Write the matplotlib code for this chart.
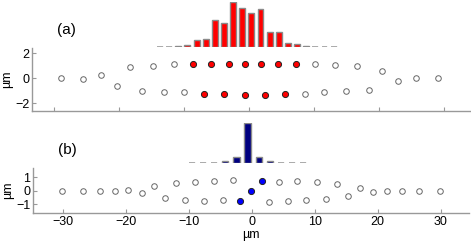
import matplotlib
matplotlib.use("Agg")
import matplotlib.pyplot as plt
import numpy as np

# panel (a): particle positions (um)
a_x = [-29.0, -25.6, -22.8, -20.3, -18.3, -16.5, -14.8, -13.1, -11.6, -10.0,
       -8.6, -6.9, -5.8, -3.9, -3.1, -0.7, -0.6, 1.9, 2.5, 4.5, 5.5, 7.2,
       8.6, 10.2, 11.6, 13.3, 14.9, 16.6, 18.4, 20.4, 22.9, 25.7, 29.1]
a_y = [0.0, -0.08, 0.21, -0.64, 0.91, -1.04, 0.99, -1.09, 1.09, -1.12,
       1.09, -1.25, 1.09, -1.31, 1.09, -1.39, 1.12, 1.09, -1.36, 1.09, -1.31, 1.09,
       -1.25, 1.09, -1.15, 1.04, -1.04, 0.99, -0.93, 0.59, -0.27, 0.03, -0.03]
a_on = [0] * 10 + [1] * 12 + [0] * 11
# panel (a): populations
a_bars = [0, 0, 1.0, 1.7, 6.7, 8.0, 26.3, 23.7, 44.3, 39.0,
          33.7, 38.0, 14.3, 14.3, 3.7, 2.7, 0.7, 0, 0, 0]

# panel (b)
b_x = [-30.1, -26.8, -24.1, -21.7, -19.6, -17.4, -15.5, -13.7, -12.0, -10.5,
       -9.0, -7.5, -6.0, -4.5, -2.9, -1.9, -0.1, 1.6, 2.7, 4.3, 5.7, 7.2,
       8.7, 10.3, 11.8, 13.5, 15.3, 17.2, 19.3, 21.5, 23.8, 26.6, 29.9]
b_y = [0, 0, 0, 0, 0.07, -0.17, 0.37, -0.49, 0.62, -0.67,
       0.67, -0.72, 0.72, -0.64, 0.84, -0.77, 0.0, 0.77, -0.84, 0.64, -0.72, 0.72,
       -0.64, 0.64, -0.62, 0.52, -0.35, 0.22, -0.07, 0, 0, 0, 0]
b_on = [0] * 15 + [1] * 3 + [0] * 15
b_bars = [0, 0, 0, 2.7, 6.0, 40.0, 6.0, 2.7, 0, 0, 0]

W, H = 471, 247
fig = plt.figure(figsize=(W / 100, H / 100), dpi=100)
plt.rcParams['font.family'] = ['Liberation Sans', 'DejaVu Sans']


def box(l, t, r, b):
    return [l / W, 1 - b / H, (r - l) / W, (b - t) / H]


def style(ax):
    for s in ['top', 'right']:
        ax.spines[s].set_visible(False)
    for s in ['left', 'bottom']:
        ax.spines[s].set_color('#999999')
        ax.spines[s].set_linewidth(1.0)
    ax.tick_params(direction='in', length=3, color='#999999', labelsize=9,
                   pad=2)


def scatter(ax, xs, ys, on, col):
    xs, ys, on = np.array(xs), np.array(ys), np.array(on, bool)
    ax.plot(xs[~on], ys[~on], 'o', ms=4.0, mfc='white', mec='#666666',
            mew=0.7, ls='none')
    ax.plot(xs[on], ys[on], 'o', ms=4.4, mfc=col, mec='#222222',
            mew=0.7, ls='none')


def bars(ax, vals, w, col, top):
    ax.bar(np.arange(len(vals)), vals, width=w, color=col,
           edgecolor='#8a8a8a', linewidth=1.0)
    # zero populations show up as grey dashes
    zx = [i for i, v in enumerate(vals) if v == 0]
    ax.hlines([0] * len(zx), np.array(zx) - w / 2, np.array(zx) + w / 2,
              color='#a0a0a0', lw=1.2)
    ax.set_xlim(-0.5, len(vals) - 0.5)
    ax.set_ylim(0, top)
    ax.axis('off')


# (a)
ax1 = fig.add_axes(box(32, 48, 470, 111))
style(ax1)
scatter(ax1, a_x, a_y, a_on, '#ff0000')
ax1.set_xlim(-33.4, 34.0)
ax1.set_ylim(-2.64, 2.4)
ax1.set_yticks([-2, 0, 2])
ax1.set_xticks([-30, -20, -10, 0, 10, 20, 30])
ax1.set_xticklabels([])
ax1.set_yticklabels(['\u22122', '0', '2'])
ax1.set_ylabel('\u00b5m', fontsize=9, labelpad=1)
fig.text(66 / W, 1 - 30 / H, '(a)', fontsize=11, ha='center', va='center')

bx1 = fig.add_axes(box(155.4, 2.3, 338.2, 46.7))
bars(bx1, a_bars, 0.65, '#ff0000', 44.3)

# (b)
ax2 = fig.add_axes(box(33, 168, 469, 213))
style(ax2)
scatter(ax2, b_x, b_y, b_on, '#0000ff')
ax2.set_xlim(-34.7, 34.5)
ax2.set_ylim(-1.63, 1.7)
ax2.set_yticks([-1, 0, 1])
ax2.set_yticklabels(['\u22121', '0', '1'])
ax2.set_xticks([-30, -20, -10, 0, 10, 20, 30])
ax2.set_xticklabels(['\u221230', '\u221220', '\u221210', '0', '10', '20', '30'])
ax2.set_ylabel('\u00b5m', fontsize=9, labelpad=1)
ax2.set_xlabel('\u00b5m', fontsize=9, labelpad=1)
fig.text(67 / W, 1 - 150 / H, '(b)', fontsize=11, ha='center', va='center')

bx2 = fig.add_axes(box(186.5, 123, 308.6, 163.3))
bars(bx2, b_bars, 0.55, '#000080', 40)

fig.savefig('out.png', dpi=100)
